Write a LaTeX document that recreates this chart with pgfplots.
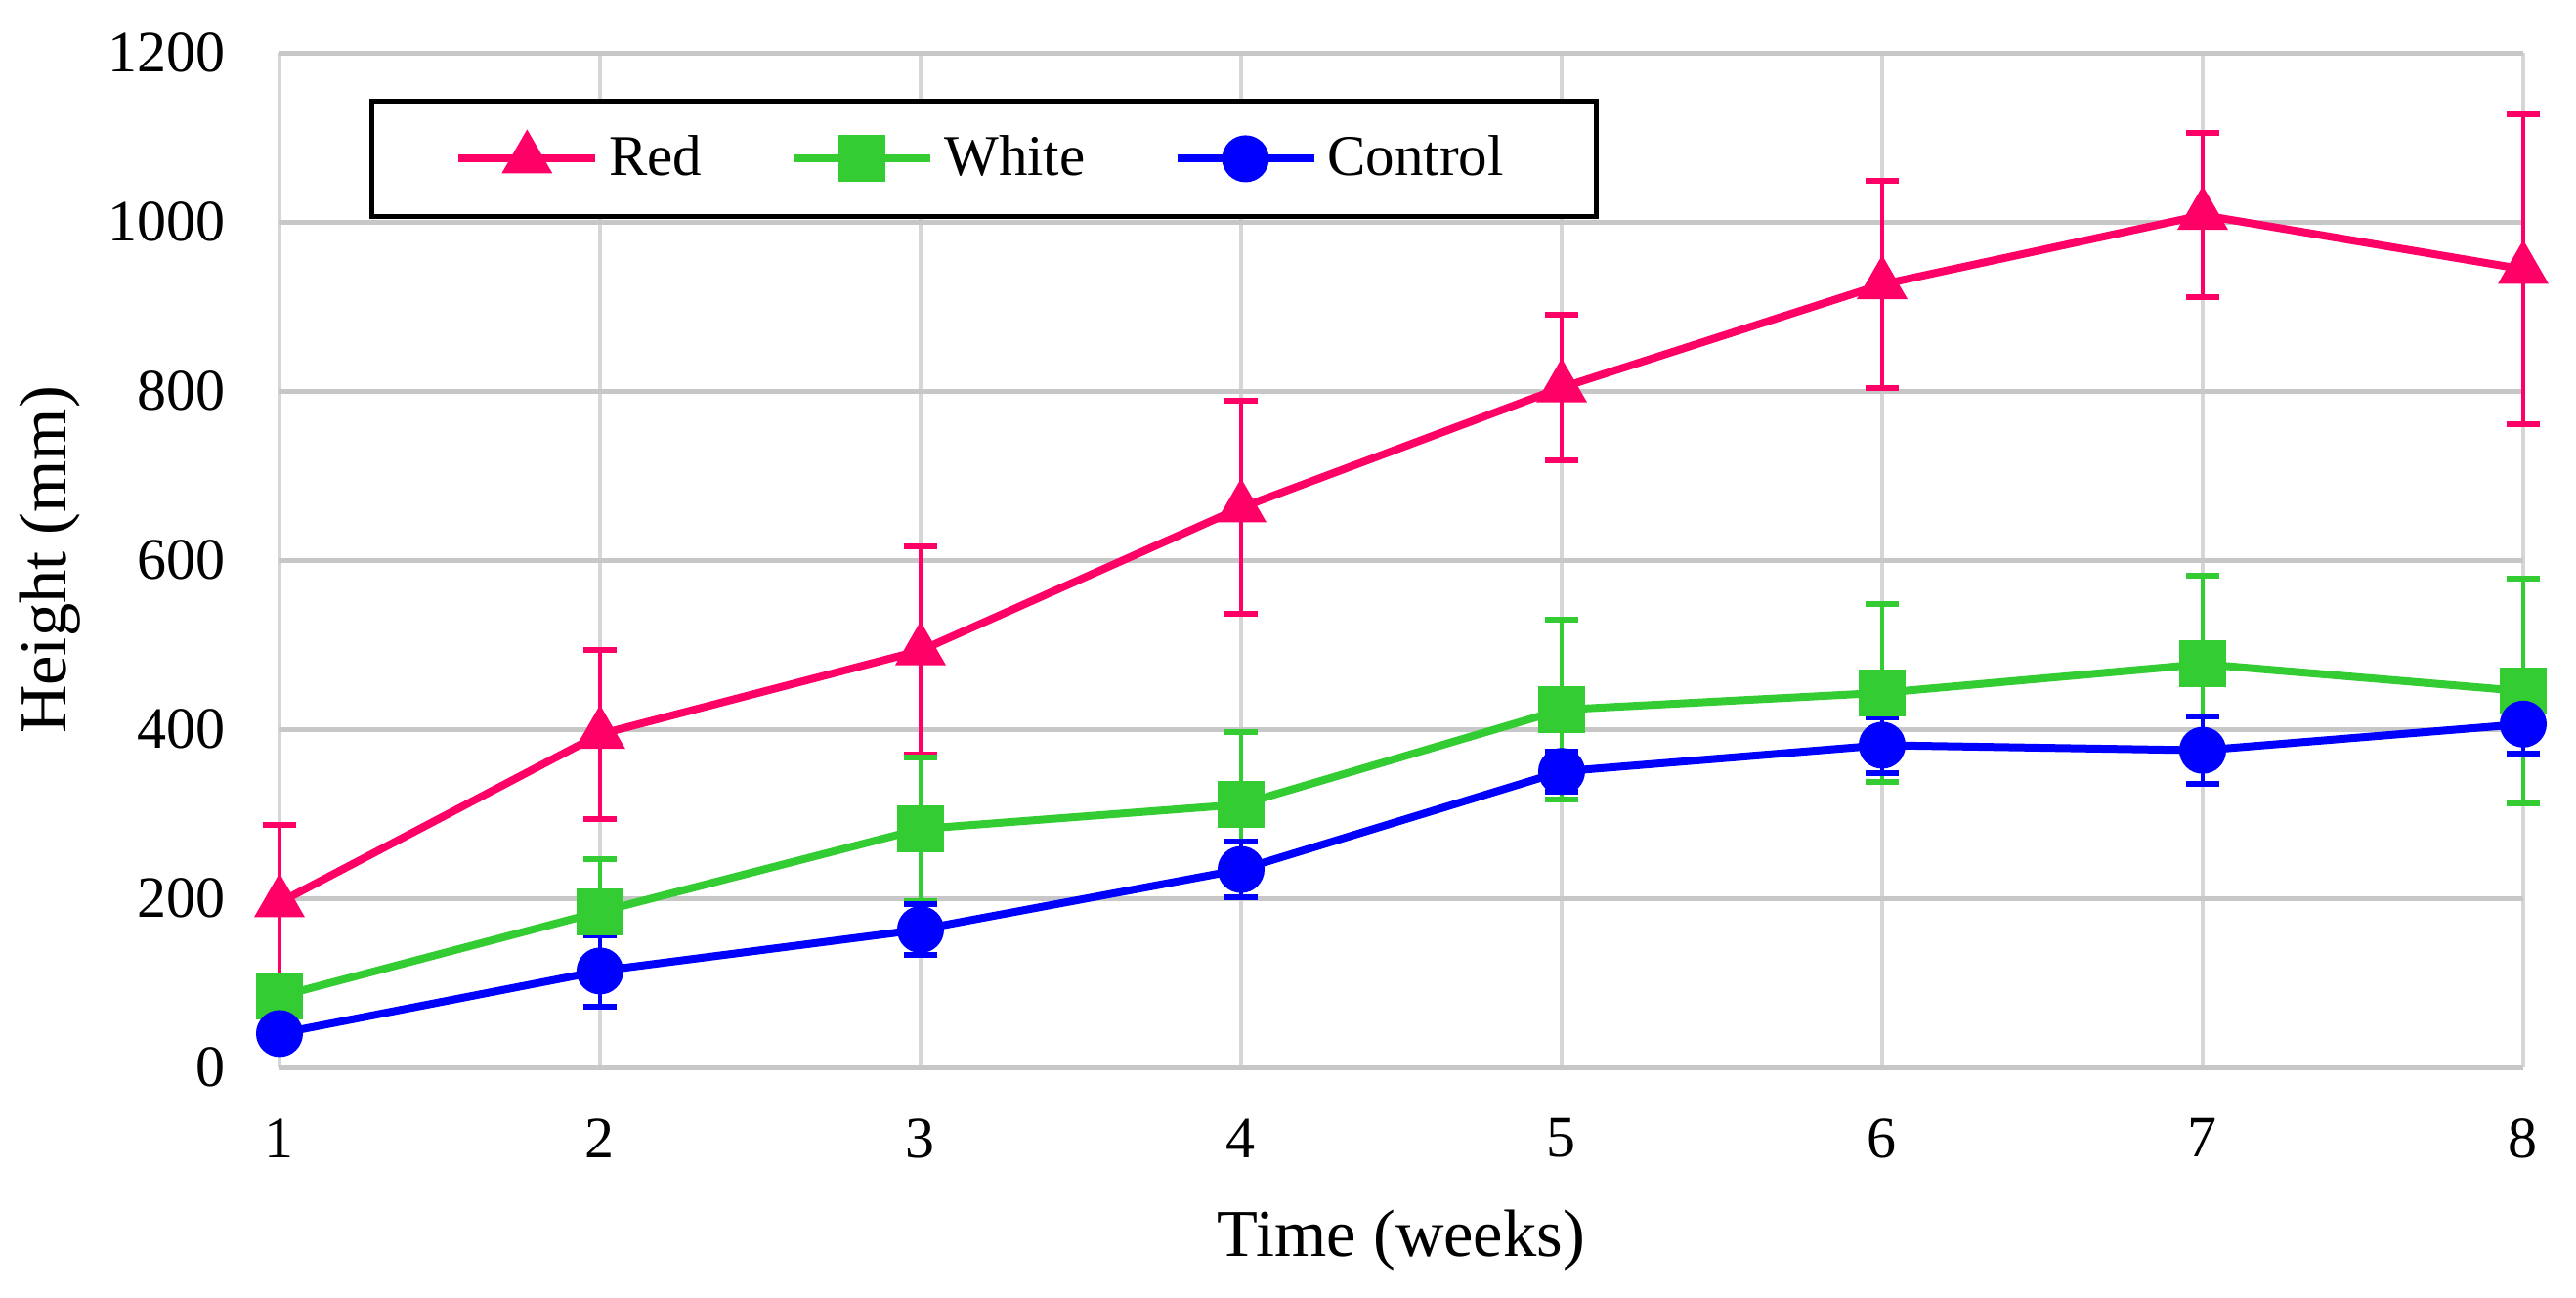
\documentclass[border=0pt]{standalone}
\usepackage{pgfplots}
\pgfplotsset{compat=1.18}
\usepackage{fontspec}
\setmainfont{Liberation Serif}
\definecolor{cred}{HTML}{FF0066}
\definecolor{cgreen}{HTML}{33CC33}
\definecolor{cblue}{HTML}{0000FF}
\pgfplotsset{
  ebars/.style={
    error bars/.cd, y dir=both, y explicit,
    error bar style={line width=0.8pt, solid},
    error mark options={rotate=90, line width=1.2pt, mark size=3.4pt}
  }
}
\begin{document}
\begin{tikzpicture}
\begin{axis}[
  name=ax, at={(0,0)}, anchor=south west,
  width=459.2pt, height=207.6pt, scale only axis,
  xmin=1, xmax=8, ymin=0, ymax=1200,
  xtick={1,...,8}, ytick={0,200,...,1200},
  xmajorgrids, ymajorgrids,
  x grid style={draw=black!16, line width=0.7pt},
  y grid style={draw=black!22, line width=1pt},
  axis line style={draw=none},
  major tick length=0pt,
  clip=false,
  /pgf/number format/assume math mode=true,
  /pgf/number format/1000 sep={},
  tick label style={font=\fontsize{12}{14}\selectfont},
  yticklabel style={xshift=-7.5pt},
  xticklabel style={yshift=-7pt},
  xlabel={Time (weeks)},
  ylabel={Height (mm)},
  label style={font=\fontsize{13.7}{16}\selectfont},
  xlabel style={at={(axis description cs:0.5,-0.171)}, anchor=center},
  ylabel style={at={(axis description cs:-0.1024,0.5)}, anchor=center},
  legend columns=3,
  legend style={at={(0.040,0.955)}, anchor=north west, draw=black, line width=1pt,
    inner xsep=17pt, inner ysep=5pt,
    font=\fontsize{11.8}{13.5}\selectfont,
    /tikz/every even column/.append style={column sep=16pt}},
  legend image code/.code={\draw[mark repeat=2,mark phase=2] plot coordinates {(0pt,0pt) (14pt,0pt) (28pt,0pt)};},
]
\addplot[cred, line width=1.6pt, mark=triangle*, mark size=4.4pt, ebars]
  coordinates {
  (1,195) +- (0,92)
  (2,394) +- (0,100)
  (3,493) +- (0,123)
  (4,662) +- (0,126)
  (5,804) +- (0,86)
  (6,926) +- (0,123)
  (7,1008) +- (0,97)
  (8,944) +- (0,183)
  };
\addplot[cgreen, line width=1.6pt, mark=square*, mark size=4pt, ebars]
  coordinates {
  (1,84) +- (0,20)
  (2,184) +- (0,62)
  (3,282) +- (0,85)
  (4,311) +- (0,86)
  (5,423) +- (0,106)
  (6,443) +- (0,105)
  (7,477) +- (0,105)
  (8,445) +- (0,133)
  };
\addplot[cblue, line width=1.6pt, mark=*, mark size=4pt, ebars]
  coordinates {
  (1,40) +- (0,10)
  (2,114) +- (0,42)
  (3,163) +- (0,30)
  (4,234) +- (0,33)
  (5,350) +- (0,24)
  (6,381) +- (0,33)
  (7,375) +- (0,40)
  (8,406) +- (0,35)
  };
\legend{Red,White,Control}
\end{axis}
\pgfresetboundingbox
\path (-57.2pt,-47pt) rectangle (470pt,218.4pt);
\end{tikzpicture}
\end{document}
